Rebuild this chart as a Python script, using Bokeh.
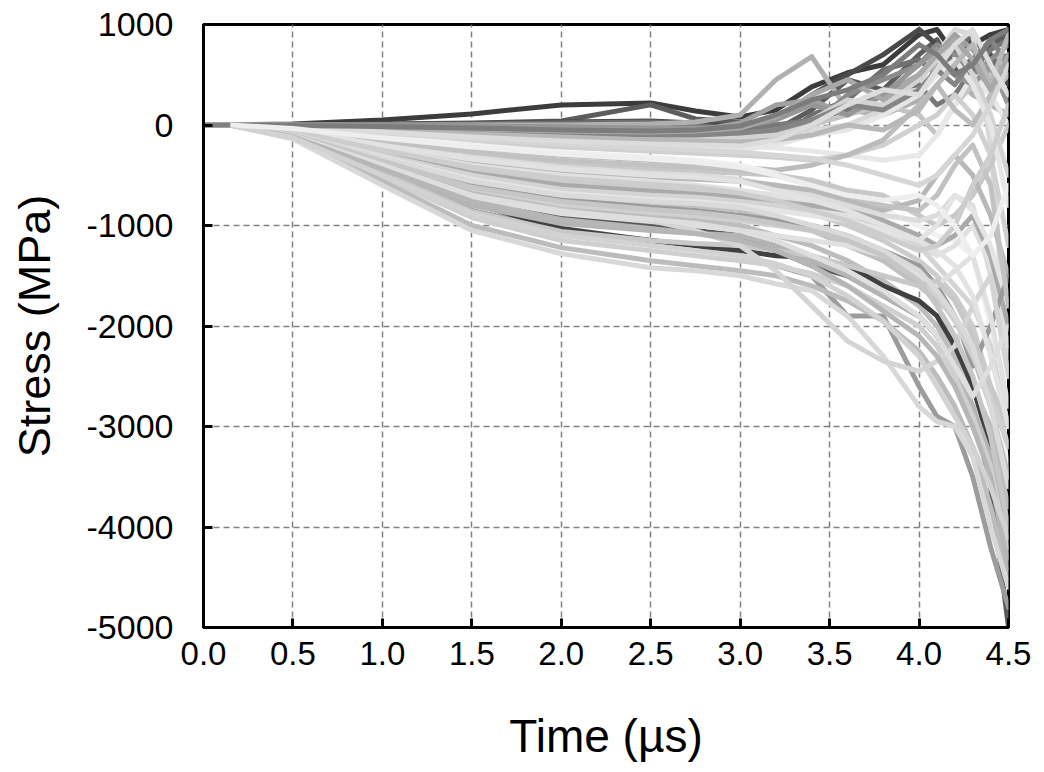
from bokeh.plotting import figure
from bokeh.models import ColumnDataSource, FixedTicker, NumeralTickFormatter, Range1d
from bokeh.embed import file_html
from bokeh.resources import INLINE

# time samples (µs)
time_us = [0.0, 0.15, 0.5, 1.0, 1.5, 2.0, 2.5, 2.75, 3.0, 3.2, 3.4, 3.6, 3.8, 4.0, 4.1, 4.2, 4.3, 4.4, 4.5]

# stress series (MPa)
s01 = [0, 0, 10, 50, 110, 200, 220, 140, 80, 150, 380, 520, 600, 900, 950, 700, 800, 900, 950]
s02 = [0, 0, 0, 10, 20, 40, 200, 60, 30, -50, 150, 450, 350, 700, 850, 550, 650, 800, 900]
s03 = [0, 0, 0, 5, 15, 30, 40, 20, -20, 50, 300, 500, 700, 950, 800, 600, 850, 700, 400]
s04 = [0, 0, 0, 0, 10, 20, 30, 0, -50, -150, 100, 250, 550, 650, 500, 750, 900, 600, 700]
s05 = [0, 0, 0, 0, 0, 0, 10, 30, 100, 450, 680, 150, 100, 250, 600, 500, 300, 200, 100]
s06 = [0, 0, 0, -20, -60, -100, -150, -150, -150, -100, -50, 0, 150, 400, 700, 950, 900, -200, -2500]
s07 = [0, 0, 0, 0, -10, -20, -40, -40, -80, -150, 0, 300, 450, 600, 800, 700, 500, 650, 800]
s08 = [0, 0, -5, -20, -40, -60, -80, -60, 20, 200, 250, 100, 300, 500, 700, 900, 750, 500, 600]
s09 = [0, 0, 0, -10, -30, -50, -60, -60, -50, 0, 50, 150, 350, 400, 200, 300, 550, 750, 850]
s10 = [0, 0, -10, -30, -60, -90, -120, -120, -100, -50, 0, 100, 200, 100, -100, 200, 400, 500, 300]
s11 = [0, 0, -20, -60, -100, -130, -160, -180, -200, -230, -260, -300, -350, -300, -100, 200, 500, 300, 0]
s12 = [0, 0, -30, -100, -170, -220, -260, -280, -300, -320, -350, -300, -200, 0, 100, 300, 100, -300, -1200]
s13 = [0, 0, -40, -140, -230, -300, -350, -380, -420, -450, -400, -300, -150, 200, 400, 150, 0, 300, 500]
s14 = [0, 0, -30, -110, -200, -270, -320, -350, -400, -480, -580, -700, -850, -1000, -1100, -1150, -1300, -2000, -3500]
s15 = [0, 0, -50, -170, -290, -380, -440, -460, -480, -500, -550, -650, -700, -900, -1000, -900, -700, -400, 0]
s16 = [0, 0, -50, -190, -320, -420, -480, -500, -540, -600, -700, -800, -900, -950, -900, -700, -800, -1500, -2500]
s17 = [0, 0, -60, -220, -370, -470, -520, -540, -560, -600, -650, -750, -850, -750, -500, -300, -500, -900, -1500]
s18 = [0, 0, -60, -240, -400, -500, -560, -600, -650, -700, -800, -900, -1050, -1200, -1300, -1200, -1000, -1400, -2200]
s19 = [0, 0, -70, -270, -450, -560, -620, -650, -700, -780, -880, -1000, -1150, -1350, -1500, -1700, -2000, -2600, -3200]
s20 = [0, 0, -70, -290, -480, -600, -660, -690, -720, -760, -800, -850, -950, -1100, -1200, -1100, -900, -1300, -2000]
s21 = [0, 0, -80, -300, -500, -640, -700, -720, -760, -800, -880, -950, -1000, -1200, -1400, -1600, -1800, -2200, -3000]
s22 = [0, 0, -80, -320, -540, -680, -740, -760, -800, -850, -900, -950, -1050, -1150, -1000, -700, -850, -1200, -1800]
s23 = [0, 0, -90, -340, -580, -720, -780, -800, -850, -950, -1050, -1200, -1350, -1600, -1750, -1900, -2300, -2800, -3500]
s24 = [0, 0, -90, -350, -600, -740, -820, -850, -900, -950, -1000, -1100, -1250, -1400, -1600, -1900, -2400, -2000, -1500]
s25 = [0, 0, -100, -380, -650, -800, -880, -900, -950, -1000, -1050, -1150, -1300, -1500, -1700, -1950, -2300, -2700, -3200]
s26 = [0, 0, -100, -400, -680, -840, -920, -950, -1000, -1100, -1200, -1350, -1550, -1800, -2000, -2300, -2600, -3000, -3800]
s27 = [0, 0, -110, -420, -720, -880, -960, -1000, -1050, -1100, -1150, -1200, -1300, -1500, -1600, -1450, -1300, -1900, -2800]
s28 = [0, 0, -90, -420, -780, -1030, -1150, -1200, -1250, -1300, -1320, -1400, -1600, -1750, -1900, -2200, -2600, -3200, -4000]
s29 = [0, 0, -120, -460, -800, -980, -1050, -1080, -1100, -1200, -1350, -1500, -1700, -1900, -2100, -2400, -2800, -3300, -4200]
s30 = [0, 0, -120, -480, -860, -1060, -1150, -1180, -1200, -1250, -1300, -1400, -1500, -1600, -1550, -1750, -2100, -2600, -3000]
s31 = [0, 0, -130, -520, -920, -1150, -1250, -1300, -1350, -1400, -1480, -1600, -1800, -2000, -2200, -2500, -2900, -3400, -4300]
s32 = [0, 0, -130, -560, -1000, -1220, -1350, -1400, -1450, -1500, -1600, -1750, -1950, -2250, -2500, -2800, -3200, -3800, -4500]
s33 = [0, 0, -140, -600, -1050, -1280, -1420, -1450, -1500, -1580, -1650, -1900, -2300, -2800, -2950, -3000, -3300, -4000, -4600]
s34 = [0, 0, -110, -450, -850, -1050, -1150, -1200, -1300, -1400, -1500, -1900, -1900, -2600, -2900, -3000, -3500, -4200, -4800]
s35 = [0, 0, -100, -400, -700, -850, -950, -1050, -1200, -1450, -1800, -2150, -2350, -2450, -2350, -2200, -1800, -1500, -2500]
s36 = [0, 0, -100, -400, -700, -900, -1000, -1050, -1100, -1250, -1400, -1500, -1700, -1900, -2100, -2400, -2800, -3600, -5000]
s37 = [0, 0, 0, -5, -10, -20, -30, -30, -20, 50, 200, 100, 300, 600, 750, 500, 400, 600, 200]
s38 = [0, 0, -10, -40, -80, -110, -140, -150, -130, -100, 50, 250, 200, 450, 650, 800, 500, 100, -500]
s39 = [0, 0, -20, -70, -130, -180, -220, -240, -250, -200, -100, -50, 100, 300, 500, 650, 400, 0, -800]
s40 = [0, 0, -10, -30, -60, -80, -100, -100, -80, -50, 50, 200, 150, 350, 550, 400, 650, 850, 600]
s41 = [0, 0, -15, -50, -90, -120, -150, -160, -170, -150, -100, 0, -50, 150, 400, 600, 800, 400, 900]
s42 = [0, 0, -25, -80, -140, -190, -230, -250, -270, -300, -330, -400, -500, -600, -500, -300, -100, 200, 600]
s43 = [0, 0, -45, -160, -270, -350, -400, -420, -450, -500, -600, -700, -800, -850, -700, -400, -200, -600, -1800]
s44 = [0, 0, -55, -200, -340, -440, -500, -520, -560, -650, -750, -850, -1000, -1150, -1250, -1400, -1700, -2300, -3000]
s45 = [0, 0, -65, -250, -420, -530, -590, -620, -680, -750, -850, -950, -1100, -1250, -1200, -1000, -600, -300, 200]
s46 = [0, 0, -85, -330, -560, -700, -760, -780, -820, -900, -1000, -1100, -1250, -1450, -1650, -1900, -2200, -2800, -3600]
s47 = [0, 0, -95, -360, -620, -760, -840, -870, -920, -980, -1050, -1150, -1300, -1550, -1800, -2100, -2500, -3100, -4000]
s48 = [0, 0, -105, -400, -700, -860, -940, -980, -1050, -1150, -1300, -1450, -1650, -1900, -2100, -2400, -2700, -2400, -2000]
s49 = [0, 0, -115, -440, -760, -940, -1030, -1080, -1150, -1250, -1400, -1600, -1850, -2100, -2300, -2600, -3000, -3500, -4400]
s50 = [0, 0, -125, -500, -880, -1100, -1200, -1250, -1300, -1380, -1500, -1700, -1950, -2300, -2600, -2900, -3200, -3600, -4100]
s51 = [0, 0, -5, -20, -40, -60, -70, -60, -30, 80, 300, 450, 250, 500, 700, 850, 650, 350, 700]
s52 = [0, 0, -20, -70, -120, -160, -190, -200, -210, -150, 0, 200, 350, 300, 550, 800, 950, 600, 300]
s53 = [0, 0, -5, -15, -30, -50, -60, -50, -10, 100, 250, 350, 500, 800, 700, 500, 600, 850, 950]
s54 = [0, 0, -35, -130, -220, -290, -340, -370, -420, -500, -600, -700, -750, -700, -800, -1000, -1300, -1100, -600]

series = [s36, s34, s01, s02, s03, s04, s05, s06, s07, s08, s09, s10, s11, s12, s13, s14, s15, s16, s17, s18, s19, s20,
          s21, s22, s23, s24, s25, s26, s27, s28, s29, s30, s31, s32, s33, s35, s37, s38, s39, s40,
          s41, s42, s43, s44, s45, s46, s47, s48, s49, s50, s51, s52, s53, s54]
colors = ["#5a5a5a", "#9c9c9c", "#3c3c3c", "#5c5c5c", "#4a4a4a", "#6e6e6e", "#b0b0b0", "#d8d8d8", "#8c8c8c", "#a0a0a0",
          "#787878", "#c4c4c4", "#e8e8e8", "#d0d0d0", "#bcbcbc", "#f0f0f0", "#c8c8c8", "#dcdcdc", "#b8b8b8", "#e0e0e0",
          "#cccccc", "#aaaaaa", "#d4d4d4", "#e4e4e4", "#c0c0c0", "#9a9a9a", "#d0d0d0", "#bdbdbd", "#e0e0e0", "#404040",
          "#b4b4b4", "#c8c8c8", "#cfcfcf", "#bcbcbc", "#d8d8d8", "#d4d4d4", "#969696", "#d2d2d2", "#e6e6e6", "#858585",
          "#b8b8b8", "#d6d6d6", "#c2c2c2", "#e2e2e2", "#cdcdcd", "#dadada", "#c6c6c6", "#dedede", "#b6b6b6", "#d2d2d2",
          "#a8a8a8", "#dcdcdc", "#7c7c7c", "#eeeeee"]

x_ticks = [0.0, 0.5, 1.0, 1.5, 2.0, 2.5, 3.0, 3.5, 4.0, 4.5]
y_ticks = [-5000, -4000, -3000, -2000, -1000, 0, 1000]

FONT = "Liberation Sans"

p = figure(width=1040, height=766, output_backend="svg", toolbar_location=None,
           x_range=Range1d(0, 4.5), y_range=Range1d(-5000, 1000),
           min_border_left=203, min_border_right=32, min_border_top=24, min_border_bottom=139)
p.background_fill_color = "white"
p.border_fill_color = "white"
p.outline_line_color = "black"
p.outline_line_width = 3

src = ColumnDataSource(dict(xs=[time_us] * len(series), ys=series, c=colors))
p.multi_line("xs", "ys", source=src, line_color="c", line_width=5, line_join="round", line_cap="round")
p.line(time_us[:2], s01[:2], line_color="#7f7f7f", line_width=5)

for ax in (p.xaxis[0], p.yaxis[0]):
    ax.axis_line_color = "black"
    ax.axis_line_width = 3
    ax.major_tick_in = 9
    ax.major_tick_out = 0
    ax.major_tick_line_width = 3
    ax.major_tick_line_color = "black"
    ax.minor_tick_line_color = None
    ax.major_label_text_font = FONT
    ax.major_label_text_color = "black"
    ax.axis_label_text_font = FONT
    ax.axis_label_text_font_style = "normal"
    ax.axis_label_text_color = "black"

p.xaxis.major_label_text_font_size = "33px"
p.yaxis.major_label_text_font_size = "34px"
p.xaxis.axis_label_text_font_size = "46px"
p.yaxis.axis_label_text_font_size = "45px"
p.xaxis.ticker = FixedTicker(ticks=x_ticks)
p.yaxis.ticker = FixedTicker(ticks=y_ticks)
p.xaxis.formatter = NumeralTickFormatter(format="0.0")
p.yaxis.formatter = NumeralTickFormatter(format="0")
p.xaxis.axis_label = "Time (µs)"
p.yaxis.axis_label = "Stress (MPa)"
p.xaxis.major_label_standoff = 14
p.yaxis.major_label_standoff = 30
p.xaxis.axis_label_standoff = 42
p.yaxis.axis_label_standoff = 24

p.xgrid.ticker = FixedTicker(ticks=x_ticks)
p.ygrid.ticker = FixedTicker(ticks=y_ticks)
for g in (p.xgrid[0], p.ygrid[0]):
    g.grid_line_color = "#808080"
    g.grid_line_width = 1.5
    g.grid_line_dash = "6 4"

open("out.html", "w").write(file_html(p, INLINE))
